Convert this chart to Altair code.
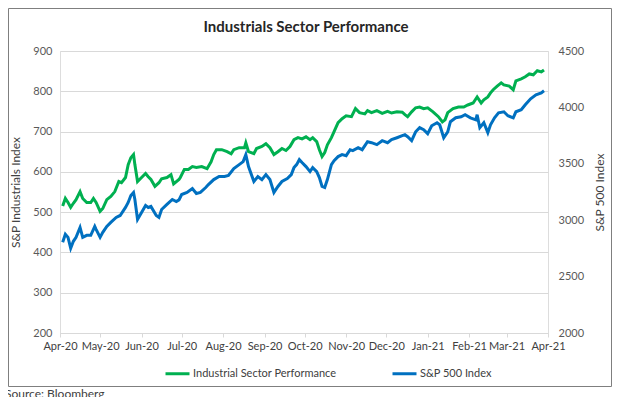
import altair as alt
import pandas as pd

# Series names
series_names = ["Industrial Sector Performance", "S&P 500 Index"]
series_colors = ["#00B050", "#0070C0"]

# Industrials index: day offset from 2020-04-01 and value (left axis)
green_day = [2, 4, 6, 8, 10, 12, 15, 17, 20, 23, 25, 27, 30, 32, 35, 38, 41, 44, 46, 49,
             51, 53, 55, 56, 58, 61, 64, 66, 68, 71, 74, 76, 80, 83, 85, 89, 90, 93, 96, 99,
             102, 106, 110, 113, 115, 117, 121, 125, 128, 130, 134, 138, 139, 141, 145, 147,
             151, 154, 157, 160, 163, 166, 169, 172, 175, 178, 181, 184, 187, 189, 192, 194,
             196, 198, 200, 203, 205, 208, 211, 214, 218, 221, 224, 228, 230, 233, 237, 241,
             245, 248, 252, 256, 258, 260, 263, 266, 269, 272, 275, 279, 283, 286, 288, 290,
             294, 298, 302, 305, 309, 312, 315, 317, 320, 322, 324, 327, 330, 332, 336, 339,
             341, 345, 348, 351, 354, 357, 360, 362]
green_val = [515, 534, 524, 512, 522, 531, 551, 534, 524, 524, 534, 524, 502, 509, 531, 539, 551, 576, 573, 586,
             618, 635, 643, 618, 576, 586, 596, 588, 581, 564, 573, 583, 586, 593, 570, 581, 586, 606, 606, 613,
             611, 613, 608, 625, 643, 655, 655, 650, 645, 655, 660, 660, 672, 650, 645, 658,
             663, 670, 660, 643, 650, 658, 653, 663, 680, 685, 682, 687, 680, 685, 675, 655,
             638, 648, 667, 685, 700, 722, 732, 739, 737, 757, 747, 744, 752, 747, 752, 745,
             750, 746, 749, 748, 742, 737, 749, 759, 761, 757, 759, 749, 737, 724, 729, 747,
             757, 761, 761, 766, 771, 786, 771, 779, 786, 796, 804, 813, 821, 816, 813, 804,
             826, 831, 836, 843, 841, 851, 848, 853]

# S&P 500 index: day offset from 2020-04-01 and value (right axis)
blue_day = [2, 4, 6, 8, 10, 12, 15, 17, 20, 23, 26, 27, 30, 32, 35, 38, 42, 45, 49, 51,
            53, 55, 56, 58, 61, 64, 66, 68, 72, 74, 76, 80, 84, 87, 89, 91, 95, 99, 102, 105,
            109, 111, 115, 119, 123, 126, 130, 134, 137, 139, 141, 145, 148, 151, 154, 157,
            160, 163, 166, 170, 173, 175, 177, 179, 181, 184, 187, 189, 192, 194, 196, 198,
            200, 203, 205, 208, 211, 214, 217, 219, 223, 226, 230, 233, 237, 241, 245, 248,
            252, 256, 258, 260, 263, 266, 269, 272, 275, 278, 282, 284, 287, 290, 292, 296,
            300, 303, 307, 311, 312, 314, 317, 320, 322, 325, 328, 332, 335, 339, 341, 345,
            348, 352, 356, 360, 362]
blue_val = [2804, 2875, 2848, 2751, 2813, 2848, 2936, 2848, 2866, 2866, 2945, 2919, 2848, 2892, 2945, 2981, 3025, 3042, 3113, 3157,
            3219, 3246, 3184, 3007, 3069, 3131, 3113, 3122, 3042, 3025, 3095, 3140, 3184, 3166, 3180, 3228, 3246, 3281, 3237, 3246,
            3290, 3316, 3360, 3387, 3387, 3396, 3458, 3493, 3519, 3581, 3475, 3343, 3387, 3360, 3404, 3360,
            3246, 3299, 3343, 3369, 3404, 3466, 3493, 3537, 3511, 3475, 3431, 3466, 3431, 3378, 3299, 3290,
            3360, 3493, 3528, 3564, 3581, 3572, 3625, 3617, 3643, 3625, 3696, 3687, 3670, 3705, 3687, 3714,
            3731, 3749, 3758, 3740, 3705, 3784, 3820, 3802, 3767, 3837, 3864, 3846, 3731, 3784, 3873, 3908,
            3917, 3935, 3908, 3890, 3935, 3820, 3864, 3776, 3846, 3908, 3952, 3961, 3926, 3908, 3961, 3979,
            4023, 4076, 4111, 4129, 4147]

left_ticks = [200, 300, 400, 500, 600, 700, 800, 900]
right_ticks = [2000, 2500, 3000, 3500, 4000, 4500]

chart_title = "Industrials Sector Performance"
source_note = "Source: Bloomberg"

start = pd.Timestamp("2020-04-01")
df_g = pd.DataFrame({
    "date": [(start + pd.Timedelta(days=d)).strftime("%Y-%m-%dT00:00:00") for d in green_day],
    "value": green_val,
    "series": series_names[0],
})
df_b = pd.DataFrame({
    "date": [(start + pd.Timedelta(days=d)).strftime("%Y-%m-%dT00:00:00") for d in blue_day],
    "value": blue_val,
    "series": series_names[1],
})

FONT = "Lato"
month_vals = [alt.DateTime(year=2020 + (3 + i) // 12, month=(3 + i) % 12 + 1, date=1) for i in range(13)]

x_enc = alt.X(
    "date:T",
    scale=alt.Scale(domain=[alt.DateTime(year=2020, month=4, date=1),
                            alt.DateTime(year=2021, month=4, date=1)]),
    axis=alt.Axis(values=month_vals, format="%b-%y", title=None, grid=False,
                  labelFont=FONT, labelFontSize=11, labelColor="#404040",
                  domainColor="#d9d9d9", tickColor="#d9d9d9", tickSize=4,
                  labelPadding=3, labelFlush=False),
)

legend = alt.Legend(
    title=None, orient="none", direction="horizontal", legendX=104, legendY=309,
    symbolType="stroke", symbolSize=576, symbolStrokeWidth=3, labelFont=FONT,
    labelFontSize=11, labelColor="#404040", columnPadding=49, labelOffset=2,
)
color_enc = alt.Color("series:N", scale=alt.Scale(domain=series_names, range=series_colors),
                      legend=legend)

green = alt.Chart(df_g).mark_line(strokeWidth=3).encode(
    x=x_enc,
    y=alt.Y("value:Q", scale=alt.Scale(domain=[200, 900], nice=False),
            axis=alt.Axis(values=left_ticks, title="S&P Industrials Index", grid=True,
                          gridColor="#d9d9d9", domain=False, ticks=False, labelPadding=8,
                          labelFont=FONT, labelFontSize=11, labelColor="#595959",
                          titleFont=FONT, titleFontSize=12, titleFontWeight="normal",
                          titleColor="#404040", titlePadding=10)),
    color=color_enc,
)

blue = alt.Chart(df_b).mark_line(strokeWidth=3).encode(
    x=x_enc,
    y=alt.Y("value:Q", scale=alt.Scale(domain=[2000, 4500], nice=False),
            axis=alt.Axis(orient="right", values=right_ticks, format="d", title="S&P 500 Index",
                          grid=False, domain=False, ticks=False, labelPadding=10,
                          labelFont=FONT, labelFontSize=11, labelColor="#595959",
                          titleFont=FONT, titleFontSize=12, titleFontWeight="normal",
                          titleColor="#404040", titlePadding=23, titleAngle=270)),
    color=color_enc,
)

one = pd.DataFrame({"a": [0]})
frame = alt.Chart(one).mark_rect(filled=False, color="#7f7f7f", strokeWidth=1).encode(
    x=alt.value(-51.5), x2=alt.value(551.5), y=alt.value(-42.5), y2=alt.value(335.5)
)
title_text = alt.Chart(one).mark_text(align="center", baseline="middle", font=FONT, fontSize=15,
                                      fontWeight="bold", color="#262626").encode(
    x=alt.value(246), y=alt.value(-24), text=alt.value(chart_title)
)
source = alt.Chart(one).mark_text(align="left", baseline="top", font=FONT, fontSize=12,
                                  color="#404040").encode(
    x=alt.value(-55), y=alt.value(338), text=alt.value(source_note)
)

chart = alt.layer(green, blue, frame, title_text, source).resolve_scale(y="independent").properties(
    width=488,
    height=282,
    autosize=alt.AutoSizeParams(type="none"),
    padding={"left": 52, "top": 43, "right": 64, "bottom": 64},
).configure_view(stroke=None).configure(background="white")

chart.save("out.html", embed_options={"renderer": "svg", "actions": False})
